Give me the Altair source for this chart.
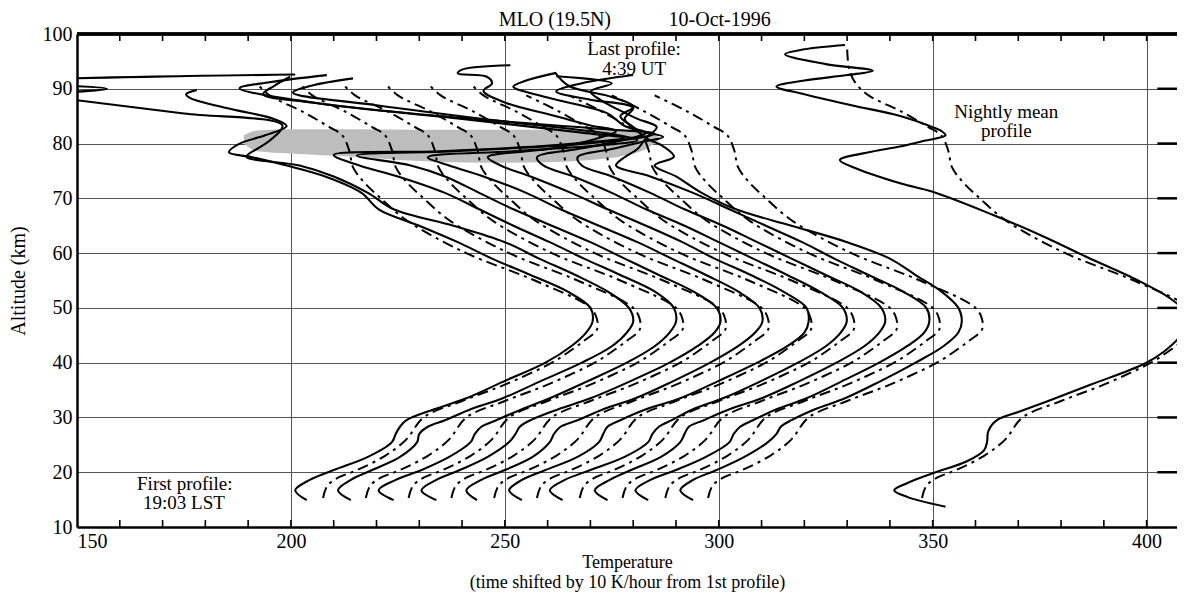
import altair as alt
import pandas as pd

# ---------------- data (temperatures in K, unshifted; altitude in km) ----------------
ALT_LOW = [14.9, 16.7, 18.6, 20.4, 22.8, 25.5, 27.0, 28.3, 29.5, 31.5, 33.5, 36.5, 40, 43,
           45.5, 47.5, 50, 53, 56, 59, 62, 65, 68, 71, 74, 76]

P0_LOW = [203.7, 201, 204.4, 210, 218, 223.6, 224.5, 225.5, 227, 233.5, 241, 249.5, 259.5, 265.5,
          269, 270.5, 270, 264.6, 256, 247, 239, 230, 220.5, 216.5, 208, 199]
P1_LOW = [204, 201, 204, 209, 215.5, 219.5, 220, 222, 226, 232, 239.5, 248, 258, 265,
          268.5, 270, 269, 264, 256.5, 248, 240, 228, 214, 208, 200, 192]
P2_LOW = [204, 200.5, 204.5, 210.5, 217, 222, 223, 224.5, 228, 234, 240.5, 249, 258.5, 265,
          268.5, 270, 269.5, 265, 257, 248.5, 240.5, 232, 224, 216, 205, 196]
P3_LOW = [204, 200.5, 204, 209.5, 216, 221, 222.5, 223.5, 226, 232.5, 240, 249, 258.5, 265,
          269, 270.4, 269.5, 264, 256, 248, 240, 231, 222, 214, 206, 198]
P4_LOW = [203.5, 201, 204.5, 210, 216.5, 220.5, 221.5, 223, 227, 233, 240.5, 249, 258, 264.5,
          268.5, 270.2, 269.5, 264.5, 257, 249, 241, 232, 223, 215, 205, 197]
P5_LOW = [204, 201, 204, 209.5, 217, 222, 223, 224, 227, 233, 241, 249.5, 259, 266,
          270, 271, 270.5, 265, 257.5, 249, 241.5, 233, 224, 215.5, 206, 199]
P6_LOW = [203.5, 200.5, 204, 210, 218, 223.5, 224.5, 226, 229, 234, 241, 249.5, 258.5, 265,
          268.5, 269.9, 269, 263.5, 256, 248, 240, 232, 223, 215, 206, 199]
P7_LOW = [204, 201, 204.5, 209.5, 216.5, 221, 222, 223, 226.5, 232.5, 240, 248.5, 257.5, 264,
          267.5, 268.9, 268, 263, 255, 247, 239, 231, 222, 214, 205, 198]
P8_LOW = [203.5, 200.5, 204, 210, 217, 222.5, 223.5, 225, 228, 233.5, 240.5, 248.5, 257.5, 264,
          268, 269.2, 268.5, 263, 255, 247, 239.5, 231, 222.5, 214, 204, 196]
P9_LOW = [204, 201, 204, 209.5, 216, 221.5, 223.5, 224.5, 227, 232.5, 239.5, 247.5, 256, 262.5,
          266, 266.8, 266, 262, 256, 250, 240, 227, 214, 206, 200, 195]

P0_TOP_ALT = [77.5, 78.4, 80, 81.5, 83.2, 84.5, 86.3, 88.3, 89.0, 89.8]
P0_TOP_T = [191, 185.5, 188, 194, 199, 196, 186, 176.5, 175.5, 178]
P1_TOP_ALT = [77.6, 79, 80.5, 83.3, 85.5, 87.9, 88.8, 90.0, 91.3, 92.6]
P1_TOP_T = [179.6, 182, 185, 188, 165, 140, 130, 147, 120, 191]
P2_TOP_ALT = [77.9, 78.6, 79.5, 80.4, 81.0, 82.0, 84.5, 87.5, 90.1, 91.2, 92.5]
P2_TOP_T = [190, 215, 238, 252, 258, 248, 220, 185, 168, 175, 188.4]
P3_TOP_ALT = [77.8, 78.6, 79.8, 81.0, 81.8, 82.7, 85, 87.5, 89, 90.5, 92.2]
P3_TOP_T = [185.4, 208, 236, 251, 255, 242, 205, 175, 163.5, 166, 169.8]
P4_TOP_ALT = [77.5, 78.6, 79.6, 80.6, 81.6, 84.0, 87, 89.3, 90.6, 91.9]
P4_TOP_T = [192, 212, 231, 241, 236, 210, 180, 160.5, 165, 174.5]
P5_TOP_ALT = [77.5, 79, 80.8, 82.3, 83.3, 85, 87.5, 89.6, 91, 92.2, 92.8, 93.5, 94.3]
P5_TOP_T = [196, 210, 221, 226, 220, 212, 200, 195, 197, 195.8, 189, 190, 201.3]
P6_TOP_ALT = [77.5, 79, 80.5, 82.0, 83.2, 85.5, 88.4, 90.4, 91.5, 92.9]
P6_TOP_T = [197.5, 207, 217, 223, 218, 214, 200, 192, 195, 202]
P7_TOP_ALT = [77.5, 79, 80.3, 81.2, 82.5, 84.5, 86.5, 88, 89.5, 91, 92.5]
P7_TOP_T = [197, 205, 212, 217, 211, 208, 210, 200, 192, 198, 210]
P8_TOP_ALT = [77.5, 79, 81, 83, 84.5, 86, 87.9, 89.5, 91, 92.3]
P8_TOP_T = [198, 201, 203, 205.5, 201, 197, 192.5, 190, 195, 182]
P9_TOP_ALT = [77.6, 79.5, 81, 83, 85, 86.7, 88.5, 90.5, 92.9]
P9_TOP_T = [199.5, 197, 193, 190, 187, 190, 185, 175, 171.8]

PROFILE_SHIFT = [0, 10, 20, 30, 40, 50, 60, 70, 80, 90]   # K (10 K per hour)
MEAN_SHIFT = 140

MEAN_ALT = [13.7, 15.5, 16.7, 18, 19.8, 22, 24, 25.5, 27.5, 29.5, 31, 33, 36, 39.8, 42, 45, 47.8,
            49.6, 52, 55, 59.3, 63, 67, 71.2, 72.7, 75.5, 77, 78.5, 79.4, 80.5, 81.5, 82.3, 83,
            85, 87, 89, 90.4, 91.5, 92.5, 93.3, 94.5, 96.3, 97.2, 98]
MEAN_T = [213, 204, 201, 204, 210, 218, 222, 222.7, 223, 225, 230, 237, 247, 259.5, 264, 268, 269.5,
          268.7, 265, 258, 246, 236, 224, 210, 202.6, 192, 188.3, 195.7, 202, 208, 213, 212, 210,
          202.6, 191, 180, 173.5, 180, 190, 196, 185, 175.5, 180, 189.5]

MODEL_ALT = [15.3, 17.5, 19, 20.4, 23, 26, 30, 33, 36, 40, 42, 44, 46, 48, 50, 55, 60, 66, 70.3,
             73, 75.7, 78.8, 81.5, 83, 85.8, 88.8, 91, 93.5, 97.5]
MODEL_T = [207.5, 208.5, 211, 215.5, 222, 227, 231, 240, 250, 261, 265, 268.5, 271.5, 271.5, 270,
           257, 241, 227, 220.6, 217, 214.5, 213.6, 212, 209, 202.8, 195, 192, 190.5, 190]
MODEL_TOP = [91, 91, 91, 91, 91, 91, 90.5, 90, 89.3, 89.1]

SHADE_T = [189, 192, 200, 215, 230, 245, 260, 270, 278, 283, 286]
SHADE_LO = [80.0, 78.6, 78.2, 77.6, 76.8, 76.5, 76.6, 77.0, 77.8, 79.0, 80.6]
SHADE_HI = [81.5, 82.4, 82.6, 82.6, 82.5, 82.5, 82.5, 82.6, 82.6, 82.2, 81.2]

X_TICKS = [160, 170, 180, 190, 200, 210, 220, 230, 240, 250, 260, 270, 280, 290, 300,
           310, 320, 330, 340, 350, 360, 370, 380, 390, 400]
Y_GRID = [20, 30, 40, 50, 60, 70, 80, 90]

LOWS = [P0_LOW, P1_LOW, P2_LOW, P3_LOW, P4_LOW, P5_LOW, P6_LOW, P7_LOW, P8_LOW, P9_LOW]
TOPS = [(P0_TOP_ALT, P0_TOP_T), (P1_TOP_ALT, P1_TOP_T), (P2_TOP_ALT, P2_TOP_T),
        (P3_TOP_ALT, P3_TOP_T), (P4_TOP_ALT, P4_TOP_T), (P5_TOP_ALT, P5_TOP_T),
        (P6_TOP_ALT, P6_TOP_T), (P7_TOP_ALT, P7_TOP_T), (P8_TOP_ALT, P8_TOP_T),
        (P9_TOP_ALT, P9_TOP_T)]

# ---------------- tables ----------------
solid_rows = []
for i, (low, (ta, tt)) in enumerate(zip(LOWS, TOPS)):
    alts = ALT_LOW + ta
    temps = low + tt
    for k, (a, t) in enumerate(zip(alts, temps)):
        solid_rows.append({"profile": f"p{i}", "seq": k, "alt": a, "T": t, "shift": PROFILE_SHIFT[i]})
for k, (a, t) in enumerate(zip(MEAN_ALT, MEAN_T)):
    solid_rows.append({"profile": "mean", "seq": k, "alt": a, "T": t, "shift": MEAN_SHIFT})
solid_df = pd.DataFrame(solid_rows)

dash_rows = []
for i in range(10):
    for k, (a, t) in enumerate(zip(MODEL_ALT, MODEL_T)):
        if a <= MODEL_TOP[i]:
            dash_rows.append({"profile": f"p{i}", "seq": k, "alt": a, "T": t, "shift": PROFILE_SHIFT[i]})
for k, (a, t) in enumerate(zip(MODEL_ALT, MODEL_T)):
    dash_rows.append({"profile": "mean", "seq": k, "alt": a, "T": t, "shift": MEAN_SHIFT})
dash_df = pd.DataFrame(dash_rows)

shade_df = pd.DataFrame({"T": SHADE_T, "lo": SHADE_LO, "hi": SHADE_HI})
xtick_df = pd.DataFrame({"T": X_TICKS})
ygrid_df = pd.DataFrame({"alt": Y_GRID})

text_df = pd.DataFrame({
    "text": ["MLO (19.5N)", "10-Oct-1996", "Last profile:", "4:39 UT", "First profile:",
             "19:03 LST", "Nightly mean", "profile"],
    "T": [261.7, 300.2, 280.2, 280.2, 175.2, 175.0, 367.2, 367.2],
    "alt": [101.5, 101.5, 96.1, 92.6, 16.7, 13.2, 84.7, 81.2],
    "size": [20, 20, 19, 19, 19, 19, 19, 19],
})

# ---------------- chart ----------------
FONT = "Liberation Serif"
W, H = 1100, 493
xscale = alt.Scale(domain=[150, 407.1], nice=False, zero=False)
yscale = alt.Scale(domain=[10, 100], nice=False, zero=False)

xaxis = alt.Axis(values=[150, 200, 250, 300, 350, 400], grid=True, gridColor="#555", gridWidth=1,
                 ticks=False, domain=True, domainColor="black", domainWidth=2.5,
                 labelFont=FONT, labelFontSize=20, labelColor="black", labelPadding=4,
                 title=["Temperature", "(time shifted by 10 K/hour from 1st profile)"],
                 titleFont=FONT, titleFontSize=18, titleFontWeight="normal", titleColor="black",
                 titleLineHeight=20, titleBaseline="alphabetic", titleY=40)
yaxis = alt.Axis(values=[10, 20, 30, 40, 50, 60, 70, 80, 90, 100], grid=True, gridColor="#555",
                 gridWidth=1, ticks=False, domain=True, domainColor="black", domainWidth=2.5,
                 labelFont=FONT, labelFontSize=20, labelColor="black", labelPadding=5,
                 title="Altitude (km)", titleFont=FONT, titleFontSize=20, titleFontWeight="normal",
                 titleColor="black", titleX=-53, titleY=H / 2, titleAngle=270,
                 titleBaseline="alphabetic", titleAlign="center")

shade = alt.Chart(shade_df).mark_area(fill="#bdbdbd", fillOpacity=1, interpolate="monotone").encode(
    x=alt.X("T:Q", scale=xscale, axis=xaxis),
    y=alt.Y("lo:Q", scale=yscale, axis=yaxis),
    y2=alt.Y2("hi:Q"),
)

solid = alt.Chart(solid_df).transform_calculate(
    Tplot="datum.T + datum.shift"
).mark_line(color="black", strokeWidth=2.1, clip=True, interpolate="catmull-rom").encode(
    x=alt.X("Tplot:Q", scale=xscale),
    y=alt.Y("alt:Q", scale=yscale),
    detail="profile:N",
    order="seq:Q",
)

dashed = alt.Chart(dash_df).transform_calculate(
    Tplot="datum.T + datum.shift"
).mark_line(color="black", strokeWidth=2, strokeDash=[11, 5, 3, 5], clip=True,
            interpolate="catmull-rom").encode(
    x=alt.X("Tplot:Q", scale=xscale),
    y=alt.Y("alt:Q", scale=yscale),
    detail="profile:N",
    order="seq:Q",
)

bottom_ticks = alt.Chart(xtick_df).mark_rule(color="black", strokeWidth=1.6).encode(
    x=alt.X("T:Q", scale=xscale), y=alt.value(H), y2=alt.value(H - 7))
top_ticks = alt.Chart(xtick_df).mark_rule(color="black", strokeWidth=1.6).encode(
    x=alt.X("T:Q", scale=xscale), y=alt.value(0), y2=alt.value(7))
top_line = alt.Chart(ygrid_df).mark_rule(color="black", strokeWidth=2.5).encode(
    y=alt.datum(100, scale=yscale))
right_ticks = alt.Chart(ygrid_df).mark_rule(color="black", strokeWidth=2.5).encode(
    y=alt.Y("alt:Q", scale=yscale), x=alt.datum(402.5), x2=alt.datum(407.1))

texts = alt.Chart(text_df).mark_text(font=FONT, color="black", align="center",
                                     baseline="alphabetic").encode(
    x=alt.X("T:Q", scale=xscale), y=alt.Y("alt:Q", scale=yscale), text="text:N",
    size=alt.Size("size:Q", scale=None, legend=None))

chart = alt.layer(shade, dashed, solid, bottom_ticks, top_ticks, top_line, right_ticks, texts).properties(
    width=W, height=H,
    padding={"left": 69, "top": 26, "right": 0, "bottom": 65},
    autosize=alt.AutoSizeParams(type="none"),
).configure_view(stroke=None)

chart.save("out.html", embed_options={"renderer": "svg", "actions": False})
